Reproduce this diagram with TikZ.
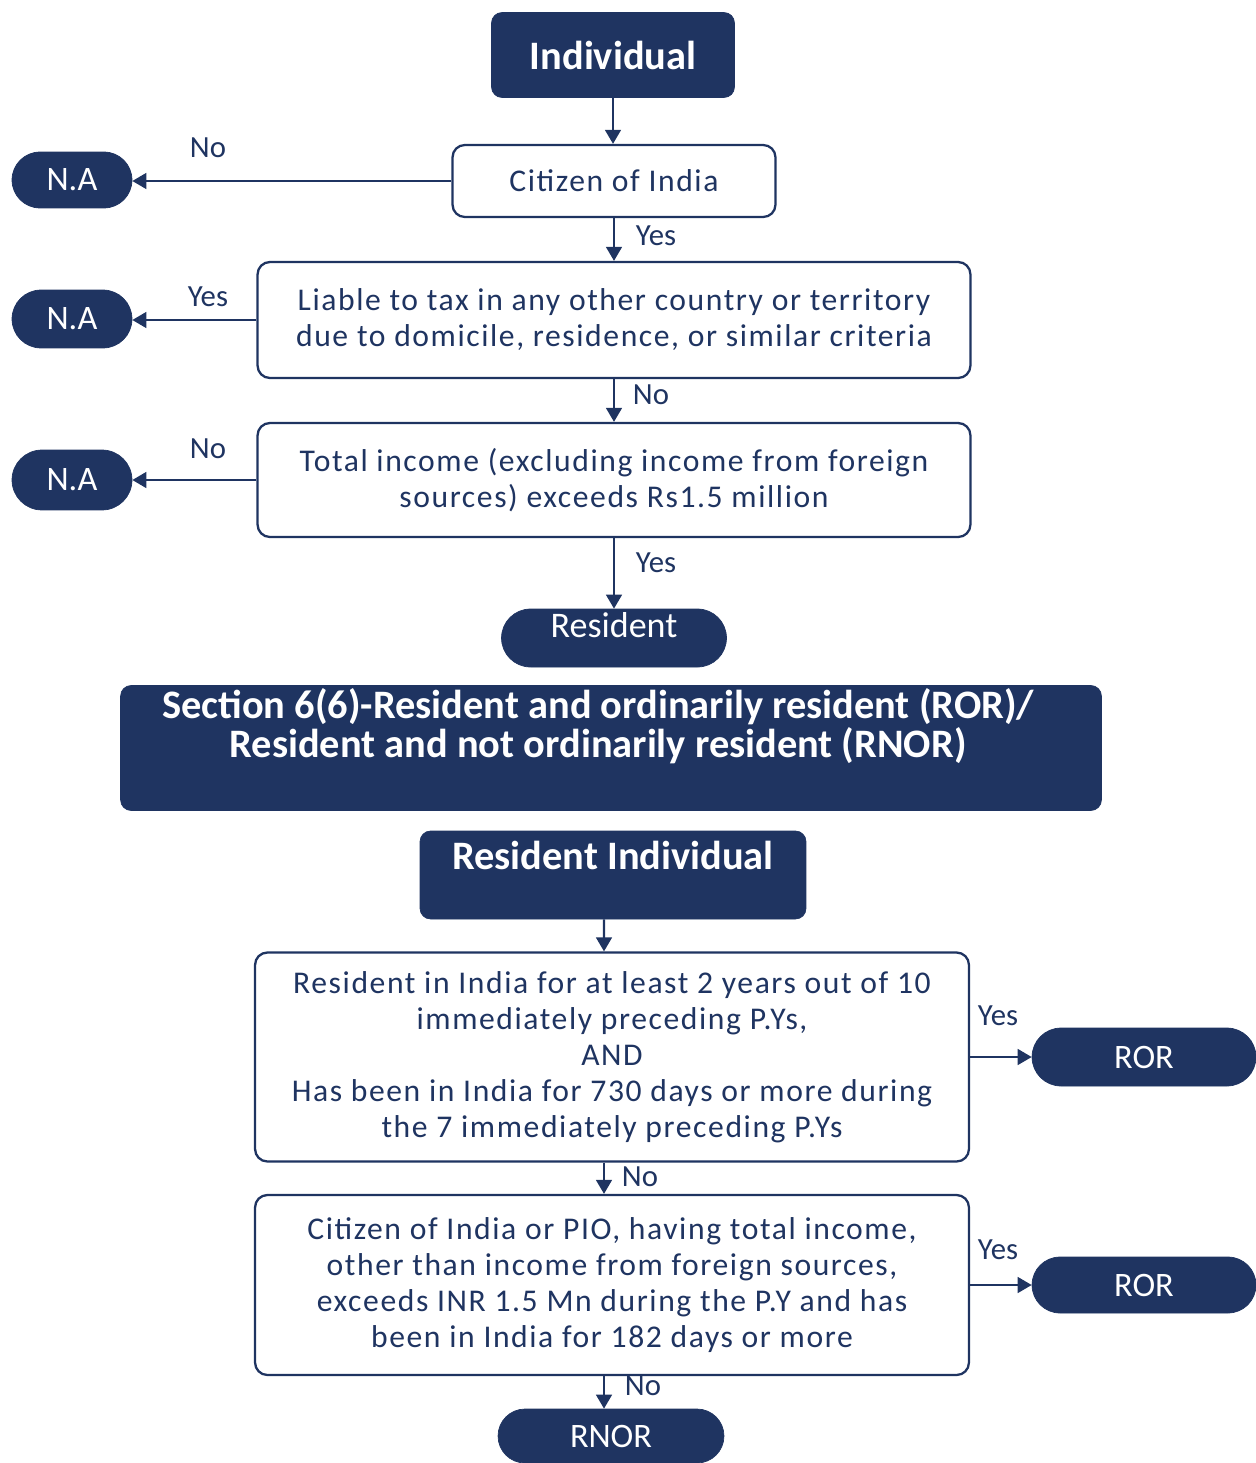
\documentclass[tikz,border=0pt]{standalone}
\usepackage{fontspec}
\setmainfont{Carlito}
\newfontfamily\boxfont{Carlito}[LetterSpace=5]
\usetikzlibrary{arrows.meta,shapes.misc}
\definecolor{navy}{HTML}{1F3461}

\begin{document}
\begin{tikzpicture}[x=0.02cm,y=-0.02cm,
    box/.style={draw=navy,line width=1.3pt,rounded corners=7pt,
        fill=white,text=navy,align=center,inner sep=0pt,
        font=\boxfont\fontsize{18}{20.5}\selectfont},
    dark/.style={draw=navy,fill=navy,rounded corners=6pt,inner sep=0pt},
    pill/.style={draw=navy,fill=navy,rounded rectangle,inner sep=0pt,
        text=white,font=\fontsize{19.5}{22}\selectfont},
    head/.style={text=white,align=center,inner sep=0pt,
        font=\fontsize{23}{22.2}\selectfont\bfseries},
    lbl/.style={text=navy,inner sep=0pt,font=\fontsize{17.5}{19}\selectfont},
    arr/.style={draw=navy,line width=1.3pt,
        -{Triangle[width=9pt,length=8pt]}}]
\useasboundingbox (0,0) rectangle (1256,1463);
% upper part
\node [dark,minimum width=4.86cm,minimum height=1.70cm,head]
    (ind) at (613,55) {Individual};
\node [box,minimum width=6.46cm,minimum height=1.44cm]
    (cit) at (614,181) {Citizen of India};
\node [box,minimum width=14.26cm,minimum height=2.32cm]
    (liab) at (614,320) {Liable to tax in any other country or territory\\
    due to domicile, residence, or similar criteria};
\node [box,minimum width=14.26cm,minimum height=2.28cm]
    (tot) at (614,480) {Total income (excluding income from foreign\\
    sources) exceeds Rs1.5 million};
\node [pill,minimum width=2.40cm,minimum height=1.12cm]
    (na1) at (72,180) {N.A};
\node [pill,minimum width=2.40cm,minimum height=1.16cm]
    (na2) at (72,319) {N.A};
\node [pill,minimum width=2.40cm,minimum height=1.20cm]
    (na3) at (72,480) {N.A};
\node [pill,minimum width=4.50cm,minimum height=1.16cm]
    (res) at (614,638) {};
\node [text=white,inner sep=0pt,font=\fontsize{20.5}{22}\selectfont]
    (resT) at (614,625) {Resident};
\draw [arr] (ind.south) -- (ind.south |- cit.north);
\draw [arr] (cit.south) -- (cit.south |- liab.north);
\draw [arr] (liab.south) -- (liab.south |- tot.north);
\draw [arr] (tot.south) -- (tot.south |- res.north);
\draw [arr] (cit.west) -- (na1.east |- cit.west);
\draw [arr] (liab.west) -- (na2.east |- liab.west);
\draw [arr] (tot.west) -- (na3.east |- tot.west);
\node [lbl] (l1) at (656,236) {Yes};
\node [lbl] (l2) at (651,395) {No};
\node [lbl] (l3) at (656,563) {Yes};
\node [lbl] (l4) at (208,148) {No};
\node [lbl] (l5) at (208,297) {Yes};
\node [lbl] (l6) at (208,449) {No};
% section 6(6)
\node [dark,minimum width=19.62cm,minimum height=2.50cm]
    (sec) at (611,748) {};
\node [head] (secT) at (598,726)
    {Section 6(6)-Resident and ordinarily resident (ROR)/\\
    Resident and not ordinarily resident (RNOR)};
\node [dark,minimum width=7.72cm,minimum height=1.76cm]
    (rind) at (613,875) {};
\node [head] (rindT) at (613,855) {Resident Individual};
% lower part
\node [box,minimum width=14.28cm,minimum height=4.18cm]
    (boxa) at (612,1057) {Resident in India for at least 2 years out of 10\\
    immediately preceding P.Ys,\\AND\\
    Has been in India for 730 days or more during\\
    the 7 immediately preceding P.Ys};
\node [box,minimum width=14.28cm,minimum height=3.60cm]
    (boxb) at (612,1285) {Citizen of India or PIO, having total income,\\
    other than income from foreign sources,\\
    exceeds INR 1.5 Mn during the P.Y and has\\
    been in India for 182 days or more};
\node [pill,minimum width=4.48cm,minimum height=1.16cm]
    (ror1) at (1144,1057) {ROR};
\node [pill,minimum width=4.48cm,minimum height=1.12cm]
    (ror2) at (1144,1285) {ROR};
\node [pill,minimum width=4.52cm,minimum height=1.08cm]
    (rnor) at (611,1436) {RNOR};
\draw [arr] ([xshift=-0.18cm]rind.south) -- ([xshift=-0.16cm]boxa.north);
\draw [arr] ([xshift=-0.16cm]boxa.south) -- ([xshift=-0.16cm]boxb.north);
\draw [arr] ([xshift=-0.16cm]boxb.south) -- ([xshift=-0.14cm]rnor.north);
\draw [arr] (boxa.east) -- (ror1.west |- boxa.east);
\draw [arr] (boxb.east) -- (ror2.west |- boxb.east);
\node [lbl] (l7) at (998,1016) {Yes};
\node [lbl] (l8) at (640,1177) {No};
\node [lbl] (l9) at (998,1250) {Yes};
\node [lbl] (l10) at (643,1386) {No};
\end{tikzpicture}
\end{document}
